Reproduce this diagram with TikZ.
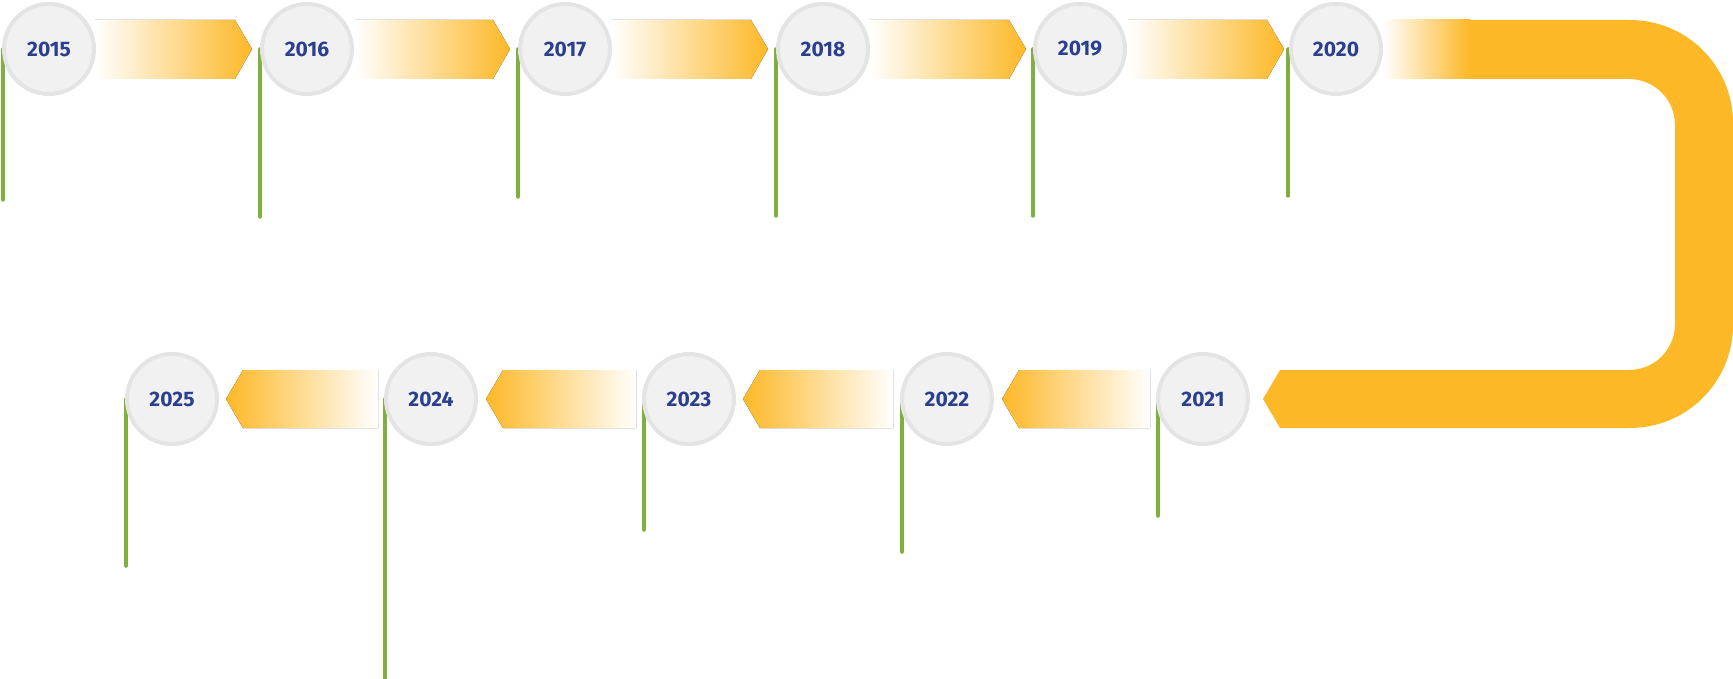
\documentclass[tikz,border=0pt]{standalone}
\usepackage{fontspec}
\setmainfont{Fira Sans}
\begin{document}
\begin{tikzpicture}[x=1pt,y=-1pt,
  yr/.style={circle,minimum size=90pt,fill=cfill,draw=cedge,line width=4pt,inner sep=0pt,font=\bfseries\fontsize{21}{21}\selectfont,text=cblue},
  stem/.style={draw=cgreen,line width=3.5pt,line cap=round}]
\definecolor{cfill}{HTML}{F1F1F1}
\definecolor{cedge}{HTML}{E4E4E4}
\definecolor{cblue}{HTML}{2B3F8F}
\definecolor{corange}{HTML}{FDB827}
\definecolor{cgreen}{HTML}{7FAF3C}
\useasboundingbox (0,0) rectangle (1733,679);
% row 1 arrows
\foreach \a/\b in {95/235,355/493,612/751,870/1009,1128/1267}{
  \fill[left color=white,right color=corange] (\a,20) -- (\b,20) -- (\b+17,49) -- (\b,79) -- (\a,79) -- cycle;}
% U-turn
\fill[left color=white,right color=corange] (1383,20) rectangle (1470,79);
\fill[corange] (1469,20) -- (1630,20) arc[start angle=-90,end angle=0,radius=103] -- (1733,325) arc[start angle=0,end angle=90,radius=103] -- (1280,428) -- (1263,399) -- (1280,370) -- (1629,370) arc[start angle=90,end angle=0,radius=46] -- (1675,125) arc[start angle=0,end angle=-90,radius=46] -- (1469,79) -- cycle;
% row 2 arrows
\foreach \a/\b in {1019/1150,760/893,503/636,243/378}{
  \fill[left color=corange,right color=white] (\b,370) -- (\a,370) -- (\a-17,399) -- (\a,428) -- (\b,428) -- cycle;}
% stems
\foreach \x/\e/\y in {3/200/49,260/217/49,518/197/49,776/216/49,1033/216/49,1288/196/49,126/566/399,385/748/399,644/530/399,902/552/399,1158/516/399}{
  \coordinate (s\x) at (\x,\y); \coordinate (e\x) at (\x,\e);
  \draw[stem] (s\x) -- (e\x);}
% circles
\foreach \n/\x/\y in {2015/49/49,2016/307/49,2017/565/49,2018/823/49,2019/1080/49,2020/1336/49,2021/1203/399,2022/947/399,2023/689/399,2024/431/399,2025/172/399}{
  \node[yr] (c\n) at (\x,\y) {\n};}
\end{tikzpicture}
\end{document}
